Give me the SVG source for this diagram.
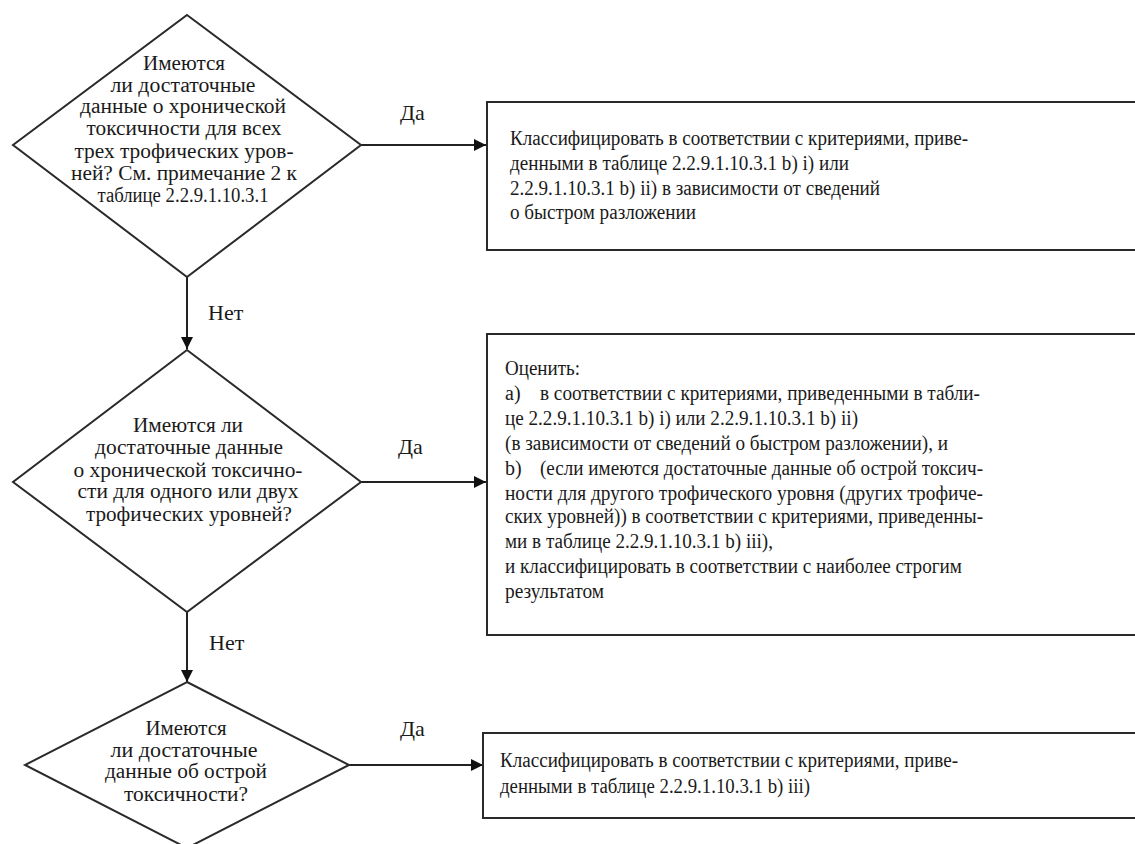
<svg xmlns="http://www.w3.org/2000/svg" width="1135" height="844" viewBox="0 0 1135 844">
<defs>
<style>
.shape{fill:#fff;stroke:#2a2a2a;stroke-width:2}
.t{font-size:20px;fill:#1a1a1a}
.c{text-anchor:middle}
.lbl{font-size:22px;fill:#1a1a1a}
.conn{stroke:#222;stroke-width:2;fill:none}
</style>
<marker id="arr" viewBox="0 0 12 12" refX="12" refY="6" markerWidth="12" markerHeight="12" markerUnits="userSpaceOnUse" orient="auto">
<path d="M0,0 L12,6 L0,12 z" fill="#111"/>
</marker>
</defs>
<rect width="1135" height="844" fill="#fff"/>
<g font-family="'Liberation Serif', 'DejaVu Serif', serif">
<g id="connectors">
<line class="conn" x1="361" y1="145" x2="486" y2="145" marker-end="url(#arr)"/>
<line class="conn" x1="187" y1="277" x2="187" y2="349" marker-end="url(#arr)"/>
<line class="conn" x1="361" y1="482" x2="486" y2="482" marker-end="url(#arr)"/>
<line class="conn" x1="187" y1="612" x2="187" y2="682" marker-end="url(#arr)"/>
<line class="conn" x1="349" y1="765" x2="483" y2="765" marker-end="url(#arr)"/>
<text class="lbl" x="400" y="120">Да</text>
<text class="lbl" x="208" y="320">Нет</text>
<text class="lbl" x="398" y="454">Да</text>
<text class="lbl" x="209" y="650">Нет</text>
<text class="lbl" x="400" y="736">Да</text>
</g>
<g id="d1">
<polygon class="shape" points="187,15 361,145 187,277 13,145"/>
<text class="t c" x="184" y="70" textLength="82" lengthAdjust="spacingAndGlyphs">Имеются</text>
<text class="t c" x="183" y="92" textLength="145" lengthAdjust="spacingAndGlyphs">ли достаточные</text>
<text class="t c" x="183" y="113" textLength="206" lengthAdjust="spacingAndGlyphs">данные о хронической</text>
<text class="t c" x="184" y="135" textLength="195" lengthAdjust="spacingAndGlyphs">токсичности для всех</text>
<text class="t c" x="184" y="158" textLength="219" lengthAdjust="spacingAndGlyphs">трех трофических уров-</text>
<text class="t c" x="184" y="180" textLength="226" lengthAdjust="spacingAndGlyphs">ней? См. примечание 2 к</text>
<text class="t c" x="183" y="202" textLength="171" lengthAdjust="spacingAndGlyphs">таблице 2.2.9.1.10.3.1</text>
</g>
<g id="b1">
<rect class="shape" x="487" y="102" width="660" height="148"/>
<text class="t" x="510" y="145" textLength="458" lengthAdjust="spacingAndGlyphs">Классифицировать в соответствии с критериями, приве-</text>
<text class="t" x="510" y="170" textLength="339" lengthAdjust="spacingAndGlyphs">денными в таблице 2.2.9.1.10.3.1 b) i) или</text>
<text class="t" x="510" y="195" textLength="370" lengthAdjust="spacingAndGlyphs">2.2.9.1.10.3.1 b) ii) в зависимости от сведений</text>
<text class="t" x="510" y="219" textLength="186" lengthAdjust="spacingAndGlyphs">о быстром разложении</text>
</g>
<g id="d2">
<polygon class="shape" points="187,350 361,482 187,612 13,482"/>
<text class="t c" x="188" y="432" textLength="110" lengthAdjust="spacingAndGlyphs">Имеются ли</text>
<text class="t c" x="189" y="454" textLength="188" lengthAdjust="spacingAndGlyphs">достаточные данные</text>
<text class="t c" x="188" y="477" textLength="229" lengthAdjust="spacingAndGlyphs">о хронической токсично-</text>
<text class="t c" x="188" y="498" textLength="221" lengthAdjust="spacingAndGlyphs">сти для одного или двух</text>
<text class="t c" x="189" y="521" textLength="206" lengthAdjust="spacingAndGlyphs">трофических уровней?</text>
</g>
<g id="b2">
<rect class="shape" x="487" y="334" width="660" height="301"/>
<text class="t" x="505" y="375" textLength="75" lengthAdjust="spacingAndGlyphs">Оценить:</text>
<text class="t" x="505" y="400">a)</text>
<text class="t" x="540" y="400" textLength="440" lengthAdjust="spacingAndGlyphs">в соответствии с критериями, приведенными в табли-</text>
<text class="t" x="505" y="425" textLength="353" lengthAdjust="spacingAndGlyphs">це 2.2.9.1.10.3.1 b) i) или 2.2.9.1.10.3.1 b) ii)</text>
<text class="t" x="505" y="450" textLength="443" lengthAdjust="spacingAndGlyphs">(в зависимости от сведений о быстром разложении), и</text>
<text class="t" x="505" y="475">b)</text>
<text class="t" x="540" y="475" textLength="443" lengthAdjust="spacingAndGlyphs">(если имеются достаточные данные об острой токсич-</text>
<text class="t" x="505" y="500" textLength="478" lengthAdjust="spacingAndGlyphs">ности для другого трофического уровня (других трофиче-</text>
<text class="t" x="505" y="523" textLength="478" lengthAdjust="spacingAndGlyphs">ских уровней)) в соответствии с критериями, приведенны-</text>
<text class="t" x="505" y="548" textLength="268" lengthAdjust="spacingAndGlyphs">ми в таблице 2.2.9.1.10.3.1 b) iii),</text>
<text class="t" x="505" y="573" textLength="457" lengthAdjust="spacingAndGlyphs">и классифицировать в соответствии с наиболее строгим</text>
<text class="t" x="505" y="598" textLength="99" lengthAdjust="spacingAndGlyphs">результатом</text>
</g>
<g id="d3">
<polygon class="shape" points="187,682 349,765 187,848 25,765"/>
<text class="t c" x="186" y="735" textLength="81" lengthAdjust="spacingAndGlyphs">Имеются</text>
<text class="t c" x="184" y="757" textLength="147" lengthAdjust="spacingAndGlyphs">ли достаточные</text>
<text class="t c" x="186" y="778" textLength="162" lengthAdjust="spacingAndGlyphs">данные об острой</text>
<text class="t c" x="186" y="801" textLength="124" lengthAdjust="spacingAndGlyphs">токсичности?</text>
</g>
<g id="b3">
<rect class="shape" x="483" y="733" width="664" height="85"/>
<text class="t" x="500" y="767" textLength="458" lengthAdjust="spacingAndGlyphs">Классифицировать в соответствии с критериями, приве-</text>
<text class="t" x="500" y="793" textLength="310" lengthAdjust="spacingAndGlyphs">денными в таблице 2.2.9.1.10.3.1 b) iii)</text>
</g>
</g>
</svg>
